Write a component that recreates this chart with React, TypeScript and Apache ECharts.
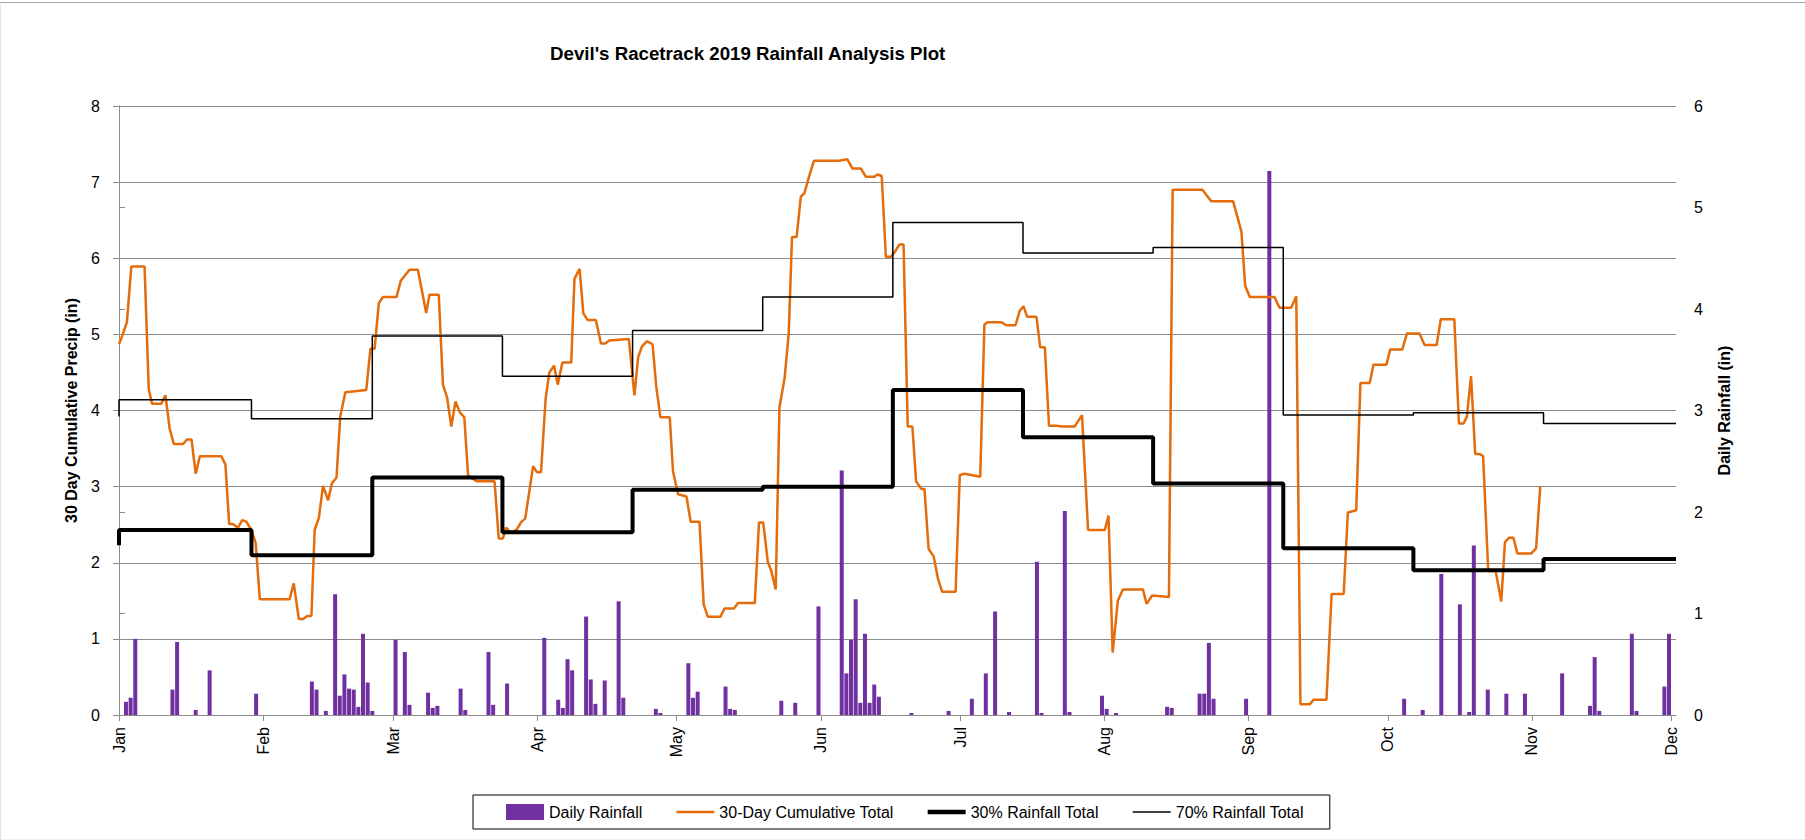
import React, { useEffect, useRef } from "react";
import * as echarts from "echarts";

const FONT = "'Liberation Sans', Arial, sans-serif";
const GRID_GRAY = "#8c8c8c";

// Month tick positions (days elapsed since Jan 1, 2019) and labels
const monthStart = [0, 31, 59, 90, 120, 151, 181, 212, 243, 273, 304, 334];
const monthNames = ["Jan", "Feb", "Mar", "Apr", "May", "Jun", "Jul", "Aug", "Sep", "Oct", "Nov", "Dec"];
const AXIS_END_DAY = 335;

// Daily rainfall (in): day of year (Jan 1 = 1) and amount
const rainDoy = [
  2, 3, 4, 12, 13, 17, 20, 30, 42, 43, 45, 47, 48, 49, 50, 51, 52, 53, 54, 55,
  60, 62, 63, 67, 68, 69, 74, 75, 80, 81, 84, 92, 95, 96, 97, 98, 101, 102, 103, 105,
  108, 109, 116, 117, 123, 124, 125, 131, 132, 133, 143, 146, 151, 156, 157, 158, 159, 160, 161, 162,
  163, 164, 171, 179, 184, 187, 189, 192, 198, 199, 204, 205, 212, 213, 215, 226, 227, 233, 234, 235,
  236, 243, 248, 277, 281, 285, 289, 291, 292, 295, 299, 303, 311, 317, 318, 319, 326, 327, 333, 334,
];
const rainIn = [
  0.13, 0.17, 0.75, 0.25, 0.72, 0.05, 0.44, 0.21, 0.33, 0.25, 0.04, 1.19, 0.19, 0.40, 0.26, 0.25, 0.08, 0.80, 0.32, 0.04,
  0.74, 0.62, 0.10, 0.22, 0.07, 0.09, 0.26, 0.05, 0.62, 0.10, 0.31, 0.76, 0.15, 0.07, 0.55, 0.44, 0.97, 0.35, 0.11, 0.34,
  1.12, 0.17, 0.06, 0.02, 0.51, 0.17, 0.23, 0.28, 0.06, 0.05, 0.14, 0.12, 1.07, 2.41, 0.41, 0.74, 1.14, 0.12, 0.80, 0.12,
  0.30, 0.18, 0.02, 0.04, 0.16, 0.41, 1.02, 0.03, 1.51, 0.02, 2.01, 0.03, 0.19, 0.06, 0.02, 0.08, 0.07, 0.21, 0.21, 0.71,
  0.16, 0.16, 5.36, 0.16, 0.05, 1.39, 1.09, 0.03, 1.67, 0.25, 0.21, 0.21, 0.41, 0.09, 0.57, 0.04, 0.80, 0.04, 0.28, 0.80,
];

// 30-day cumulative total (in): days elapsed since Jan 1 and value
const cumDay = [
  0, 0.7, 1.7, 2.65, 5.5, 6.4, 7.1, 9.1, 10.0, 10.9, 11.8, 13.8, 14.6, 15.6, 16.5, 17.4, 22.0, 22.9, 23.7, 24.5,
  25.6, 26.5, 27.4, 28.5, 29.4, 30.3, 36.7, 37.6, 38.7, 39.6, 40.5, 41.4, 42.1, 43.0, 43.9, 45.0, 45.8, 46.8, 47.6, 48.7,
  53.2, 54.1, 55.0, 55.9, 56.8, 59.7, 60.6, 62.5, 64.3, 66.1, 66.8, 68.8, 69.7, 70.6, 71.5, 72.4, 73.3, 74.3, 75.1, 76.9,
  80.8, 81.7, 82.6, 83.3, 84.2, 85.5, 86.6, 87.4, 89.1, 89.9, 90.8, 91.8, 92.6, 93.6, 94.4, 95.4, 97.3, 98.0, 99.1, 99.9,
  100.8, 102.6, 103.7, 104.6, 105.5, 109.7, 110.9, 111.7, 112.5, 113.6, 114.8, 115.6, 116.5, 118.5, 119.2, 120.3, 122.1, 123.0, 124.9, 125.8,
  126.7, 129.4, 130.3, 132.3, 133.2, 136.8, 137.7, 138.6, 139.6, 140.3, 141.3, 142.1, 143.2, 144.1, 144.8, 145.8, 146.7, 147.5, 148.5, 149.5,
  154.9, 156.7, 157.8, 159.6, 160.7, 162.5, 163.2, 164.1, 165.0, 166.1, 167.0, 167.9, 168.8, 169.7, 170.7, 171.5, 172.6, 173.3, 174.2, 175.3,
  176.2, 177.1, 180.0, 180.9, 181.9, 185.3, 186.2, 186.9, 189.8, 190.9, 192.9, 193.8, 194.6, 195.4, 197.4, 198.2, 199.2, 200.1, 201.7, 203.0,
  205.6, 207.2, 208.5, 212.1, 212.9, 213.8, 214.9, 216.0, 220.3, 221.1, 222.3, 225.9, 226.7, 233.1, 235.0, 239.7, 241.5, 242.3, 243.3, 248.6,
  249.7, 252.2, 253.3, 254.2, 256.2, 257.0, 259.8, 260.9, 263.5, 264.4, 266.2, 267.1, 269.1, 269.9, 272.7, 273.5, 276.1, 277.1, 279.8, 280.9,
  283.5, 284.4, 287.3, 288.3, 289.3, 290.0, 290.9, 291.8, 292.7, 293.5, 294.6, 296.2, 297.4, 298.2, 299.1, 300.0, 300.9, 303.8, 304.9, 305.8,
];
const cumTotal = [
  4.87, 4.98, 5.16, 5.89, 5.89, 4.28, 4.09, 4.09, 4.20, 3.76, 3.56, 3.56, 3.62, 3.62, 3.17, 3.40, 3.40, 3.29, 2.51, 2.51,
  2.46, 2.56, 2.54, 2.43, 2.26, 1.52, 1.52, 1.73, 1.26, 1.26, 1.30, 1.30, 2.43, 2.59, 3.01, 2.82, 3.04, 3.12, 3.92, 4.24,
  4.27, 4.81, 4.81, 5.41, 5.49, 5.49, 5.70, 5.85, 5.85, 5.28, 5.52, 5.52, 4.34, 4.17, 3.79, 4.12, 3.98, 3.91, 3.15, 3.07,
  3.07, 2.32, 2.32, 2.46, 2.40, 2.43, 2.54, 2.58, 3.27, 3.19, 3.19, 4.16, 4.50, 4.59, 4.34, 4.63, 4.63, 5.73, 5.86, 5.28,
  5.19, 5.19, 4.88, 4.88, 4.92, 4.94, 4.20, 4.70, 4.84, 4.91, 4.87, 4.31, 3.91, 3.91, 3.20, 2.90, 2.87, 2.54, 2.54, 1.45,
  1.29, 1.29, 1.40, 1.40, 1.47, 1.47, 2.53, 2.53, 2.01, 1.90, 1.65, 4.04, 4.42, 5.01, 6.28, 6.28, 6.81, 6.86, 7.08, 7.28,
  7.28, 7.30, 7.18, 7.18, 7.07, 7.07, 7.10, 7.08, 6.02, 6.02, 6.09, 6.18, 6.18, 3.79, 3.79, 3.07, 2.97, 2.97, 2.18, 2.08,
  1.79, 1.62, 1.62, 3.15, 3.17, 3.13, 5.13, 5.16, 5.16, 5.12, 5.12, 5.31, 5.37, 5.23, 5.23, 4.83, 4.83, 3.80, 3.80, 3.79,
  3.79, 3.94, 2.43, 2.43, 2.62, 0.82, 1.50, 1.65, 1.65, 1.46, 1.57, 1.55, 6.90, 6.90, 6.75, 6.75, 6.35, 5.64, 5.49, 5.49,
  5.35, 5.35, 5.50, 0.14, 0.14, 0.20, 0.20, 1.59, 1.59, 2.66, 2.69, 4.36, 4.36, 4.60, 4.60, 4.80, 4.80, 5.01, 5.01, 4.86,
  4.86, 5.20, 5.20, 3.83, 3.83, 3.92, 4.45, 3.43, 3.43, 3.40, 1.89, 1.89, 1.49, 2.27, 2.33, 2.33, 2.12, 2.12, 2.19, 3.01,
];

// 30% / 70% rainfall totals: day of year at which each new level begins
const levelChangeDoy = [29, 55, 83, 111, 139, 167, 195, 223, 251, 279, 307];
const pct30First = 2.23;
const pct30Levels = [2.43, 2.1, 3.12, 2.4, 2.96, 3.0, 4.27, 3.65, 3.04, 2.19, 1.9, 2.05];
const pct70First = 3.92;
const pct70Levels = [4.14, 3.89, 4.98, 4.45, 5.05, 5.49, 6.47, 6.07, 6.14, 3.94, 3.97, 3.83];

function stepData(first: number, levels: number[]) {
  const d: number[][] = [[0, first], [0, levels[0]]];
  levelChangeDoy.forEach((c, i) => {
    const x = c - 0.5;
    d.push([x, levels[i]], [x, levels[i + 1]]);
  });
  d.push([AXIS_END_DAY, levels[levels.length - 1]]);
  return d;
}

export default function App() {
  const ref = useRef<HTMLDivElement>(null);

  useEffect(() => {
    const chart = echarts.init(ref.current!, null, { renderer: "svg" });
    const axisLabelStyle = { color: "#000", fontSize: 16, fontFamily: FONT };
    const option: any = {
      animation: false,
      backgroundColor: "#fff",
      textStyle: { fontFamily: FONT },
      title: {
        text: "Devil's Racetrack 2019 Rainfall Analysis Plot",
        left: 545,
        top: 39,
        textStyle: { fontSize: 18.7, fontWeight: "bold", color: "#000", fontFamily: FONT },
      },
      graphic: [
        { type: "line", shape: { x1: 0, y1: 2.5, x2: 1805, y2: 2.5 }, style: { stroke: "#a6a6a6", lineWidth: 1 } },
        { type: "line", shape: { x1: 0.5, y1: 2.5, x2: 0.5, y2: 840 }, style: { stroke: "#e3e3e3", lineWidth: 1 } },
        { type: "line", shape: { x1: 0, y1: 839.5, x2: 1805, y2: 839.5 }, style: { stroke: "#ededed", lineWidth: 1 } },
      ],
      legend: {
        left: 473,
        top: 795,
        padding: [9, 26, 9, 33],
        itemWidth: 38,
        itemHeight: 16,
        itemGap: 34,
        symbolKeepAspect: true,
        borderColor: "#000",
        borderWidth: 1,
        textStyle: { fontSize: 16, color: "#000", fontFamily: FONT },
        data: [
          { name: "Daily Rainfall", icon: "rect" },
          { name: "30-Day Cumulative Total", icon: "path://M0,0H38V2.5H0Z" },
          { name: "30% Rainfall Total", icon: "path://M0,0H38V4.5H0Z" },
          { name: "70% Rainfall Total", icon: "path://M0,0H38V1.6H0Z" },
        ],
      },
      grid: { left: 119, right: 129, top: 106, bottom: 125, containLabel: false },
      xAxis: [
        {
          type: "value",
          min: 0,
          max: AXIS_END_DAY,
          position: "bottom",
          axisLine: { show: true, lineStyle: { color: GRID_GRAY, width: 1 } },
          axisTick: { show: true, customValues: monthStart, length: 6, lineStyle: { color: GRID_GRAY } },
          axisLabel: {
            ...axisLabelStyle,
            customValues: monthStart,
            rotate: 90,
            margin: 12,
            formatter: (v: number) => monthNames[monthStart.indexOf(Math.round(v))] ?? "",
          },
          splitLine: { show: false },
        },
        {
          type: "value",
          min: 0,
          max: AXIS_END_DAY,
          position: "bottom",
          offset: 51,
          axisLine: { show: true, lineStyle: { color: GRID_GRAY, width: 1 } },
          axisTick: { show: false },
          axisLabel: { show: false },
          splitLine: { show: false },
        },
      ],
      yAxis: [
        {
          type: "value",
          min: 0,
          max: 8,
          interval: 1,
          name: "30 Day Cumulative Precip (in)",
          nameLocation: "middle",
          nameRotate: 90,
          nameGap: 40,
          nameTextStyle: { fontSize: 16, fontWeight: "bold", color: "#000", fontFamily: FONT },
          axisLine: { show: true, lineStyle: { color: GRID_GRAY } },
          axisTick: { show: true, length: 6, lineStyle: { color: GRID_GRAY } },
          axisLabel: { ...axisLabelStyle, margin: 19 },
          splitLine: { show: true, lineStyle: { color: GRID_GRAY, width: 1 } },
        },
        {
          type: "value",
          min: 0,
          max: 6,
          interval: 1,
          position: "right",
          name: "Daily Rainfall (in)",
          nameLocation: "middle",
          nameRotate: 90,
          nameGap: 40,
          nameTextStyle: { fontSize: 16, fontWeight: "bold", color: "#000", fontFamily: FONT },
          axisLine: { show: true, lineStyle: { color: GRID_GRAY } },
          axisTick: { show: true, length: 6, lineStyle: { color: GRID_GRAY } },
          axisLabel: { ...axisLabelStyle, margin: 18 },
          splitLine: { show: false },
        },
      ],
      series: [
        {
          name: "Daily Rainfall",
          type: "bar",
          xAxisIndex: 1,
          yAxisIndex: 1,
          barWidth: 4,
          itemStyle: { color: "#7030A0" },
          data: rainDoy.map((d, i) => [d - 0.5, rainIn[i]]),
        },
        {
          name: "30-Day Cumulative Total",
          type: "line",
          xAxisIndex: 0,
          yAxisIndex: 0,
          symbol: "none",
          color: "#E46C0A",
          lineStyle: { color: "#E46C0A", width: 2.5 },
          data: cumDay.map((d, i) => [d, cumTotal[i]]),
        },
        {
          name: "30% Rainfall Total",
          type: "line",
          xAxisIndex: 0,
          yAxisIndex: 0,
          symbol: "none",
          color: "#000",
          lineStyle: { color: "#000", width: 4 },
          data: stepData(pct30First, pct30Levels),
        },
        {
          name: "70% Rainfall Total",
          type: "line",
          xAxisIndex: 0,
          yAxisIndex: 0,
          symbol: "none",
          color: "#000",
          lineStyle: { color: "#000", width: 1.5 },
          data: stepData(pct70First, pct70Levels),
        },
      ],
    };
    chart.setOption(option);
    return () => chart.dispose();
  }, []);

  return (
    <div
      ref={ref}
      style={{ position: "absolute", left: 0, top: 0, width: 1805, height: 840, background: "#fff" }}
    />
  );
}
